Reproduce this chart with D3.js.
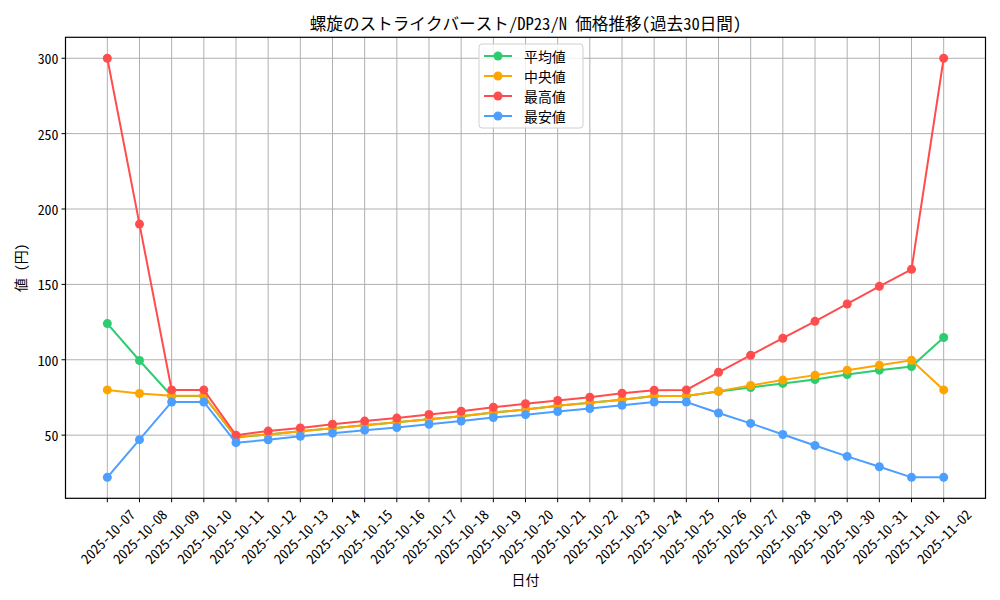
<!DOCTYPE html>
<html><head><meta charset="utf-8">
<script src="https://cdn.jsdelivr.net/npm/d3@7"></script>
<style>body{margin:0;background:#fff}svg{display:block}text{font-family:"Noto Sans Mono CJK JP","Noto Sans CJK JP","DejaVu Sans Mono",sans-serif;fill:#000}</style>
</head><body>
<svg id="c" width="1000" height="600"></svg>
<script>
const dates = ["2025-10-07","2025-10-08","2025-10-09","2025-10-10","2025-10-11","2025-10-12","2025-10-13","2025-10-14","2025-10-15","2025-10-16","2025-10-17","2025-10-18","2025-10-19","2025-10-20","2025-10-21","2025-10-22","2025-10-23","2025-10-24","2025-10-25","2025-10-26","2025-10-27","2025-10-28","2025-10-29","2025-10-30","2025-10-31","2025-11-01","2025-11-02"];
const avgVals = [124,99.5,76,76,48.5,50.5,52.5,54.5,56.5,58.5,60.5,62.5,65,67,69.5,71.5,73.5,76,76,79,81.6,84.3,86.9,90.2,93.1,95.5,114.8];
const medVals = [80,77.6,76.2,76.2,48.8,50.5,52.5,54.5,56.5,58.5,60.5,62.5,65,67,69.5,71.5,73.5,76,76,79.2,83,86.5,89.8,93.1,96.4,99.7,80];
const maxVals = [300,190,80,80,50,52.7,54.8,57.2,59.3,61.3,63.7,65.9,68.5,70.8,73,75.2,77.8,79.8,80,91.7,103,114.3,125.5,137,148.7,160,300];
const minVals = [22,47,72,72,45,46.9,49.2,51.3,53.3,55.1,57.2,59.4,61.7,63.6,65.7,67.7,69.8,71.9,72,64.7,57.8,50.4,43.1,35.9,29,22,22];
const seriesNames = ["平均値","中央値","最高値","最安値"];
const seriesColors = ["#2ecc71","#ffa500","#ff4d4d","#4d9fff"];
const yTicks = [50,100,150,200,250,300];
const titleText = "螺旋のストライクバースト/DP23/N 価格推移(過去30日間)";

const series = [avgVals, medVals, maxVals, minVals];
const svg = d3.select("#c");
const L = 65.5, R = 985.5, T = 37.3, B = 498.3;
const x = d3.scaleLinear().domain([-1.3, dates.length - 1 + 1.3]).range([L, R]);
const y = d3.scaleLinear().domain([8.1, 313.9]).range([B, T]);

// grid
const g = svg.append("g");
g.selectAll(".vg").data(dates).enter().append("line")
  .attr("x1", (d,i)=>x(i)).attr("x2", (d,i)=>x(i)).attr("y1", T).attr("y2", B)
  .attr("stroke", "#b0b0b0").attr("stroke-width", 1);
g.selectAll(".hg").data(yTicks).enter().append("line")
  .attr("x1", L).attr("x2", R).attr("y1", d=>y(d)).attr("y2", d=>y(d))
  .attr("stroke", "#b0b0b0").attr("stroke-width", 1);

// series
series.forEach((vals, si) => {
  const line = d3.line().x((d,i)=>x(i)).y(d=>y(d));
  svg.append("path").datum(vals).attr("d", line).attr("fill", "none")
    .attr("stroke", seriesColors[si]).attr("stroke-width", 2);
  svg.selectAll(".m"+si).data(vals).enter().append("circle")
    .attr("cx", (d,i)=>x(i)).attr("cy", d=>y(d)).attr("r", 4.5)
    .attr("fill", seriesColors[si]);
});

// axes frame
svg.append("rect").attr("x", L).attr("y", T).attr("width", R-L).attr("height", B-T)
  .attr("fill", "none").attr("stroke", "#000").attr("stroke-width", 1.2);

// y ticks
const yt = svg.append("g");
yTicks.forEach(v => {
  yt.append("line").attr("x1", L-4).attr("x2", L).attr("y1", y(v)).attr("y2", y(v)).attr("stroke", "#000");
  yt.append("text").attr("x", L-7).attr("y", y(v)).attr("text-anchor", "end")
    .attr("dominant-baseline", "central").attr("font-size", 13.9).text(v);
});

// x ticks
const xt = svg.append("g");
dates.forEach((d, i) => {
  xt.append("line").attr("x1", x(i)).attr("x2", x(i)).attr("y1", B).attr("y2", B+4).attr("stroke", "#000");
  const t = xt.append("text").attr("text-anchor", "middle").attr("dominant-baseline", "central")
    .attr("font-size", 13.9).text(d);
  const len = t.node().getComputedTextLength();
  const h = 12;
  const half = (len + h) / (2 * Math.SQRT2);
  t.attr("transform", `translate(${x(i)},${B + 9 + half}) rotate(-45)`);
});

// title and labels
svg.append("text").attr("x", (L+R)/2).attr("y", 23).attr("text-anchor", "middle")
  .attr("dominant-baseline", "central").attr("font-size", 16.6).text(titleText);
svg.append("text").attr("x", (L+R)/2).attr("y", 579).attr("text-anchor", "middle")
  .attr("dominant-baseline", "central").attr("font-size", 13.9).text("日付");
svg.append("text").attr("transform", `translate(20,${(T+B)/2}) rotate(-90)`).attr("text-anchor", "middle")
  .attr("dominant-baseline", "central").attr("font-size", 13.9).text("値 (円)");

// legend
const lg = svg.append("g");
lg.append("rect").attr("x", 479).attr("y", 44).attr("width", 104).attr("height", 84).attr("rx", 3)
  .attr("fill", "#fff").attr("fill-opacity", 0.8).attr("stroke", "#d0d0d0");
seriesNames.forEach((n, i) => {
  const yy = 56 + i * 20;
  lg.append("line").attr("x1", 484).attr("x2", 512).attr("y1", yy).attr("y2", yy)
    .attr("stroke", seriesColors[i]).attr("stroke-width", 2);
  lg.append("circle").attr("cx", 498).attr("cy", yy).attr("r", 4.5).attr("fill", seriesColors[i]);
  lg.append("text").attr("x", 524).attr("y", yy).attr("dominant-baseline", "central")
    .attr("font-size", 13.9).text(n);
});
</script>
</body></html>
